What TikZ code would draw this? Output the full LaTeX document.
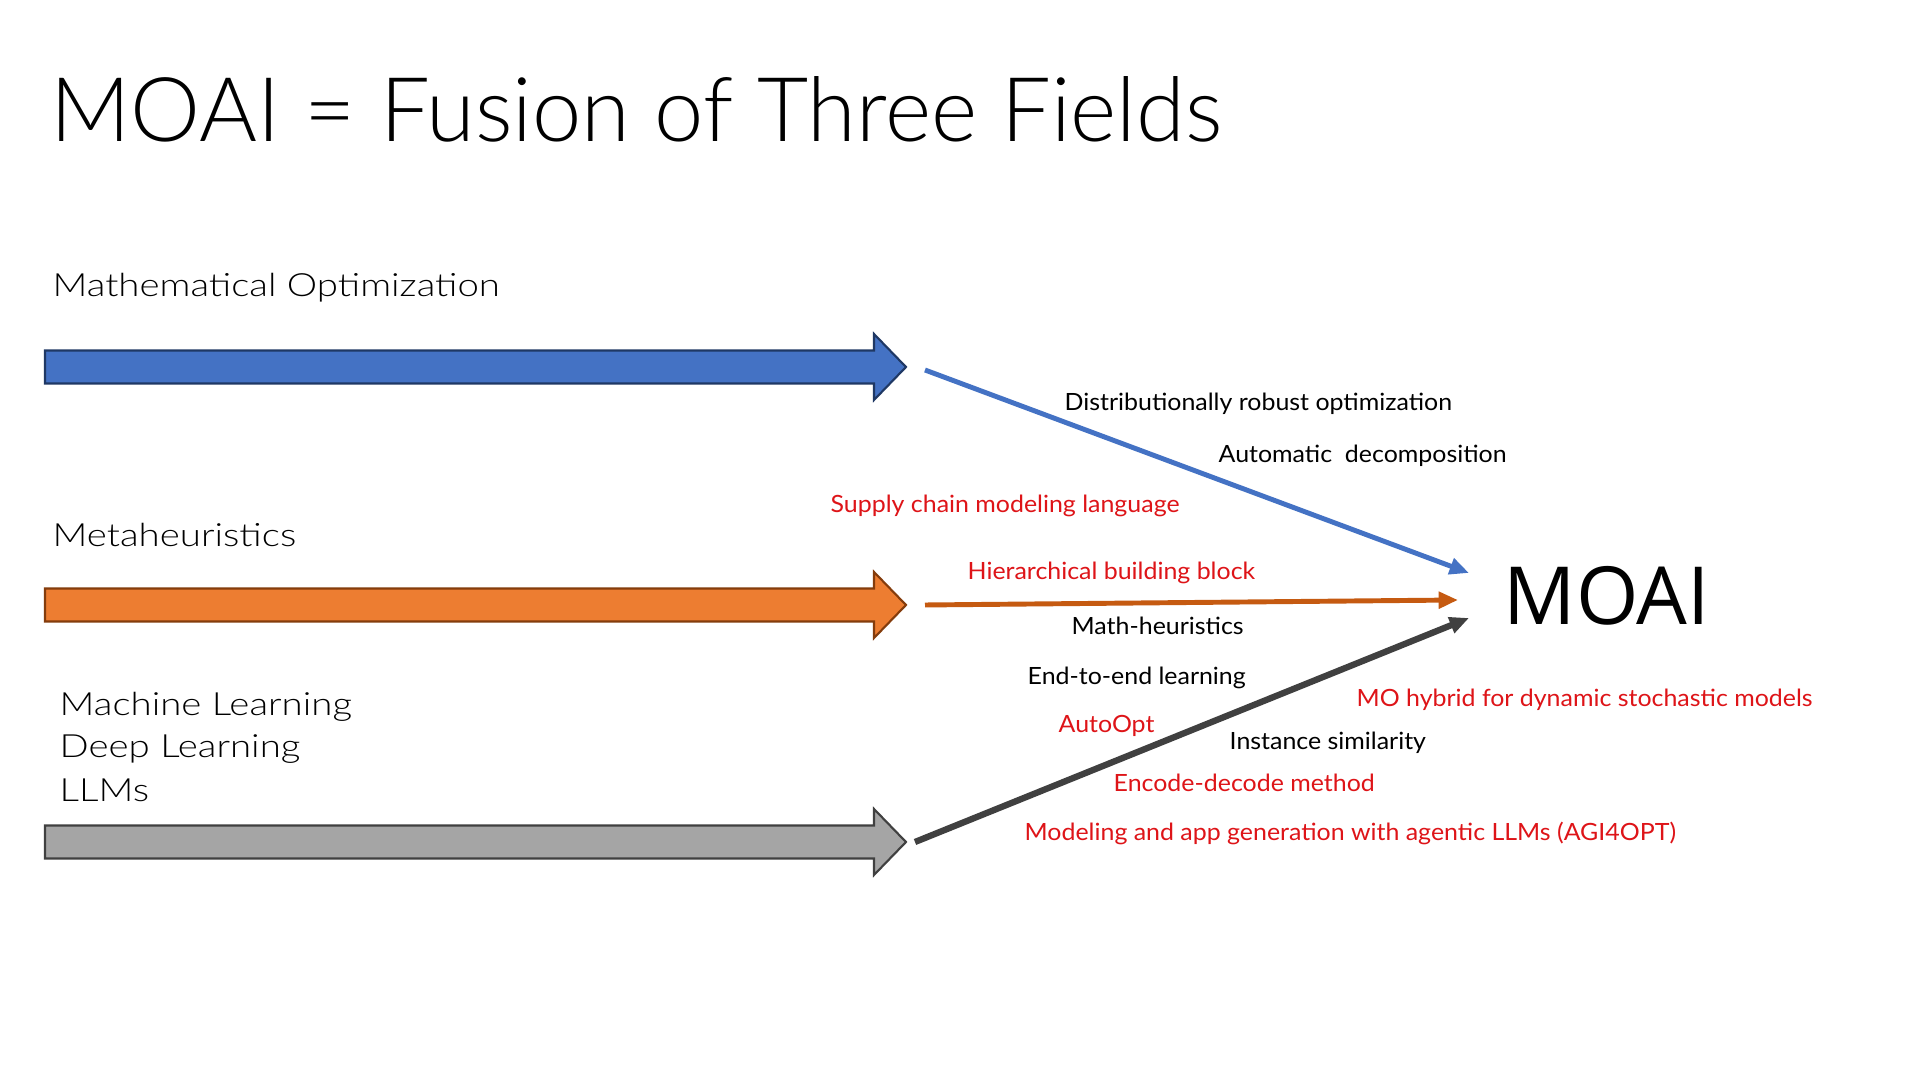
\documentclass[tikz,border=0pt]{standalone}
\usepackage{fontspec}
\setmainfont{Lato Light}
\newfontfamily\titlefont{Lato Light}[FakeStretch=0.99]
\newfontfamily\fieldfont{Lato Light}[FakeStretch=1.2]
\newfontfamily\topicfont{Lato}[FakeStretch=1.05]
\newfontfamily\moaifont{Open Sans}
\usetikzlibrary{arrows.meta}
\usetikzlibrary{positioning}

\definecolor{moblue}{RGB}{68,114,196}
\definecolor{moblueline}{RGB}{31,56,100}
\definecolor{meorange}{RGB}{237,125,49}
\definecolor{meorangeline}{RGB}{132,60,12}
\definecolor{meorangedark}{RGB}{197,90,17}
\definecolor{mlgray}{RGB}{165,165,165}
\definecolor{mlgrayline}{RGB}{64,64,64}
\definecolor{hotred}{RGB}{222,20,24}

\tikzset{
  fieldname/.style={anchor=base west, inner sep=0pt, font=\fieldfont\fontsize{9.1}{11}\selectfont},
  topic/.style={anchor=base west, inner sep=0pt, font=\topicfont\fontsize{6.75}{8}\selectfont},
  hottopic/.style={topic, text=hotred},
  fatarrow/.style={line width=0.6pt, line join=miter},
  feed/.style={line width=1.4pt, -{Triangle[length=5.5pt,width=4.6pt]}}
}

\begin{document}
\begin{tikzpicture}[x=0.01cm, y=-0.01cm]
\useasboundingbox[fill=white] (0,0) rectangle (1920,1080);

% title
\node[anchor=base west, inner sep=0pt, font=\titlefont\fontsize{25.4}{30}\selectfont] (title) at (50,142) {MOAI = Fusion of Three Fields};

% the three fields
\node[fieldname] (mo) at (52,297) {Mathematical Optimization};
\node[fieldname] (me) at (52,547) {Metaheuristics};
\node[fieldname] (ml) at (59,716) {Machine Learning};
\node[fieldname] (dl) at (59,758) {Deep Learning};
\node[fieldname] (llm) at (59,802) {LLMs};

% arrow tips
\coordinate (moTip) at (906,367);
\coordinate (meTip) at (906,605);
\coordinate (mlTip) at (906,842);

\foreach \t/\f/\d in {moTip/moblue/moblueline, meTip/meorange/meorangeline, mlTip/mlgray/mlgrayline}
  \draw[fatarrow, fill=\f, draw=\d] (\t) -- ++(-32,-33) -- ++(0,16.5) -- ++(-829,0)
    -- ++(0,33) -- ++(829,0) -- ++(0,16.5) -- cycle;

% target
\node[anchor=base west, inner sep=0pt, font=\moaifont\fontsize{22.8}{27}\selectfont] (moai) at (1503,625) {MOAI};

\coordinate (moStart) at (925,370);
\coordinate (meStart) at (925,605);
\coordinate (mlStart) at (915,842);
\coordinate (moEnd) at (1469,573);
\coordinate (meEnd) at (1458,600);
\coordinate (mlEnd) at (1469,618);

\draw[feed, moblue] (moStart) -- (moEnd);
\draw[feed, meorangedark] (meStart) -- (meEnd);
\draw[feed, mlgrayline, line width=1.8pt] (mlStart) -- (mlEnd);

% topics
\node[topic] (dro) at (1064,411) {Distributionally robust optimization};
\node[topic] (autodec) at (1218,463) {Automatic~~decomposition};
\node[hottopic] (scml) at (830,513) {Supply chain modeling language};
\node[hottopic] (hbb) at (967,580) {Hierarchical building block};
\node[topic] (mh) at (1071,635) {Math-heuristics};
\node[topic] (e2e) at (1027,685) {End-to-end learning};
\node[hottopic] (hybrid) at (1356,707) {MO hybrid for dynamic stochastic models};
\node[hottopic] (autoopt) at (1058,733) {AutoOpt};
\node[topic] (instsim) at (1229,750) {Instance similarity};
\node[hottopic] (encdec) at (1113,792) {Encode-decode method};
\node[hottopic] (agi) at (1024,841) {Modeling and app generation with agentic LLMs (AGI4OPT)};

\end{tikzpicture}
\end{document}
